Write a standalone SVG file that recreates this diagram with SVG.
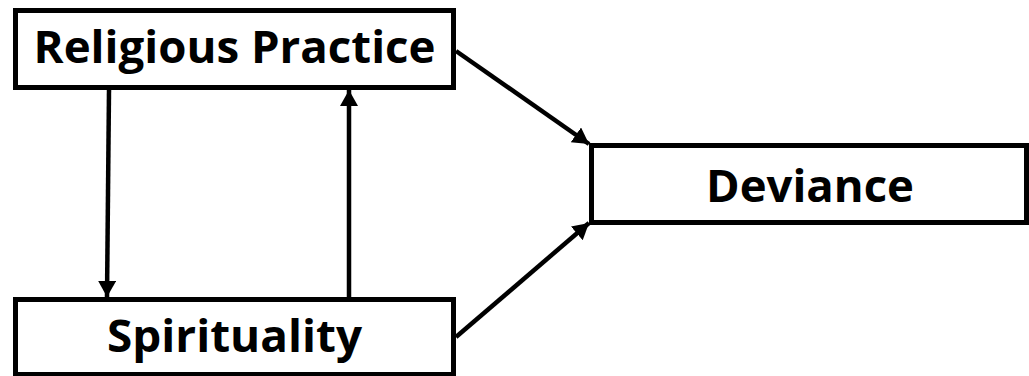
<svg xmlns="http://www.w3.org/2000/svg" width="1029" height="376" viewBox="0 0 1029 376">
  <style>
    .box { fill: #ffffff; stroke: #000000; stroke-width: 5; }
    .label { font-family: "Open Sans", "Liberation Sans", sans-serif; font-weight: 700; font-size: 45px; fill: #000000; text-anchor: middle; }
    .edge { stroke: #000000; stroke-width: 4.5; fill: none; marker-end: url(#head); }
  </style>
  <defs>
    <marker id="head" markerUnits="userSpaceOnUse" markerWidth="18" markerHeight="20" refX="16" refY="9" orient="auto">
      <path d="M0,0 L16,9 L0,18 z" fill="#000000"/>
    </marker>
  </defs>
  <rect width="1029" height="376" fill="#ffffff"/>

  <g id="religious-practice">
    <rect class="box" x="15.5" y="10.5" width="438" height="77"/>
    <text class="label" x="234.5" y="63" textLength="402" lengthAdjust="spacingAndGlyphs">Religious Practice</text>
  </g>

  <g id="spirituality">
    <rect class="box" x="15.5" y="299.5" width="438" height="75"/>
    <text class="label" x="234.5" y="352" textLength="255" lengthAdjust="spacingAndGlyphs">Spirituality</text>
  </g>

  <g id="deviance">
    <rect class="box" x="591.5" y="145.5" width="435" height="77"/>
    <text class="label" x="810" y="202" textLength="208" lengthAdjust="spacingAndGlyphs">Deviance</text>
  </g>

  <g id="connectors">
    <line class="edge" x1="109" y1="90" x2="107" y2="297"/>
    <line class="edge" x1="349" y1="297" x2="349" y2="90"/>
    <line class="edge" x1="456" y1="51" x2="589" y2="144"/>
    <line class="edge" x1="456" y1="337" x2="589" y2="223"/>
  </g>
</svg>
